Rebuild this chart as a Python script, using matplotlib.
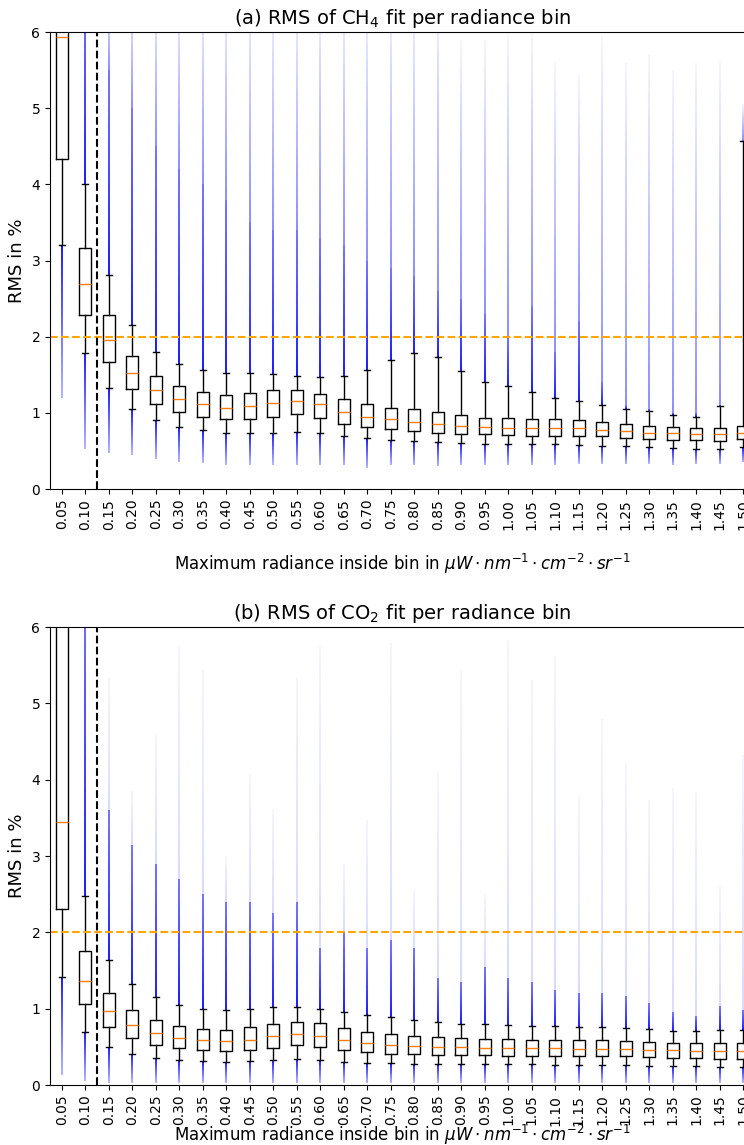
import numpy as np
import matplotlib
matplotlib.use('Agg')
import matplotlib.pyplot as plt
from matplotlib.collections import LineCollection

# radiance bins (upper edge of each bin)
bins = ["0.05", "0.10", "0.15", "0.20", "0.25", "0.30", "0.35", "0.40", "0.45", "0.50",
        "0.55", "0.60", "0.65", "0.70", "0.75", "0.80", "0.85", "0.90", "0.95", "1.00",
        "1.05", "1.10", "1.15", "1.20", "1.25", "1.30", "1.35", "1.40", "1.45", "1.50"]

# CH4 fit RMS (%) box statistics
ch4_q1 = [4.33, 2.28, 1.67, 1.31, 1.11, 1.01, 0.95, 0.915, 0.92, 0.945,
          0.984, 0.936, 0.857, 0.82, 0.79, 0.765, 0.74, 0.72, 0.717, 0.708,
          0.70, 0.70, 0.70, 0.69, 0.674, 0.66, 0.647, 0.638, 0.634, 0.656]
ch4_med = [5.94, 2.69, 1.955, 1.52, 1.295, 1.18, 1.11, 1.07, 1.086, 1.13,
           1.16, 1.11, 1.01, 0.94, 0.915, 0.883, 0.853, 0.827, 0.81, 0.805,
           0.805, 0.80, 0.80, 0.78, 0.757, 0.74, 0.73, 0.72, 0.716, 0.735]
ch4_q3 = [8.0, 3.17, 2.29, 1.745, 1.48, 1.35, 1.28, 1.24, 1.26, 1.295,
          1.295, 1.25, 1.18, 1.11, 1.07, 1.05, 1.015, 0.97, 0.936, 0.927,
          0.918, 0.914, 0.90, 0.875, 0.85, 0.823, 0.81, 0.796, 0.796, 0.823]
ch4_whislo = [3.20, 1.79, 1.32, 1.05, 0.90, 0.82, 0.77, 0.74, 0.73, 0.735,
              0.75, 0.73, 0.69, 0.665, 0.65, 0.63, 0.617, 0.604, 0.595, 0.59,
              0.586, 0.586, 0.58, 0.57, 0.564, 0.555, 0.538, 0.529, 0.529, 0.55]
ch4_whishi = [12.0, 4.01, 2.81, 2.15, 1.80, 1.64, 1.56, 1.53, 1.52, 1.51,
              1.487, 1.475, 1.48, 1.56, 1.70, 1.78, 1.74, 1.55, 1.41, 1.35,
              1.27, 1.20, 1.16, 1.106, 1.05, 1.02, 0.975, 0.95, 1.09, 4.57]
# outlier extents: lowest flier, top of the dense flier streak, highest flier
ch4_flier_min = [1.19, 0.52, 0.47, 0.45, 0.39, 0.36, 0.34, 0.32, 0.32, 0.32,
                 0.31, 0.31, 0.31, 0.28, 0.31, 0.31, 0.30, 0.31, 0.31, 0.31,
                 0.31, 0.31, 0.33, 0.33, 0.33, 0.33, 0.31, 0.33, 0.33, 0.35]
ch4_flier_dense = [12.0, 6.5, 5.5, 5.0, 4.5, 4.2, 4.0, 3.8, 3.5, 3.4,
                   3.4, 3.3, 3.2, 3.0, 2.9, 2.8, 2.6, 2.5, 2.3, 2.0,
                   2.4, 1.8, 2.2, 1.4, 1.1, 1.05, 1.0, 1.0, 1.1, 4.57]
ch4_flier_max = [12.0, 6.5, 6.5, 6.5, 6.5, 6.5, 6.5, 6.5, 6.5, 6.5,
                 6.5, 6.5, 6.5, 6.5, 6.5, 6.5, 6.5, 5.9, 5.9, 6.0,
                 6.0, 5.6, 5.45, 5.95, 5.6, 5.7, 5.5, 5.6, 5.65, 5.05]

# CO2 fit RMS (%) box statistics
co2_q1 = [2.30, 1.06, 0.756, 0.61, 0.524, 0.48, 0.455, 0.446, 0.463, 0.489,
          0.52, 0.493, 0.455, 0.428, 0.41, 0.406, 0.397, 0.393, 0.389, 0.385,
          0.385, 0.385, 0.381, 0.381, 0.376, 0.367, 0.358, 0.35, 0.345, 0.345]
co2_med = [3.44, 1.367, 0.966, 0.78, 0.677, 0.616, 0.585, 0.572, 0.59, 0.638,
           0.673, 0.646, 0.59, 0.55, 0.528, 0.515, 0.502, 0.493, 0.489, 0.485,
           0.485, 0.48, 0.476, 0.476, 0.472, 0.463, 0.454, 0.45, 0.446, 0.441]
co2_q3 = [7.0, 1.756, 1.21, 0.983, 0.85, 0.77, 0.734, 0.72, 0.756, 0.80,
          0.826, 0.81, 0.747, 0.70, 0.664, 0.646, 0.628, 0.61, 0.603, 0.598,
          0.594, 0.59, 0.585, 0.585, 0.581, 0.563, 0.55, 0.546, 0.55, 0.546]
co2_whislo = [1.41, 0.70, 0.50, 0.41, 0.358, 0.328, 0.31, 0.306, 0.315, 0.328,
              0.345, 0.328, 0.306, 0.288, 0.284, 0.279, 0.275, 0.275, 0.271, 0.271,
              0.271, 0.267, 0.262, 0.262, 0.258, 0.253, 0.249, 0.249, 0.24, 0.24]
co2_whishi = [12.0, 2.48, 1.634, 1.32, 1.153, 1.05, 1.0, 0.987, 1.0, 1.018,
              1.027, 1.0, 0.961, 0.92, 0.887, 0.852, 0.83, 0.804, 0.795, 0.782,
              0.777, 0.769, 0.765, 0.765, 0.752, 0.73, 0.713, 0.713, 0.721, 0.721]
co2_flier_min = [0.13, 0.05, 0.03, 0.03, 0.03, 0.03, 0.03, 0.03, 0.03, 0.03,
                 0.03, 0.03, 0.03, 0.03, 0.03, 0.03, 0.03, 0.03, 0.03, 0.03,
                 0.03, 0.03, 0.03, 0.03, 0.03, 0.03, 0.03, 0.03, 0.03, 0.03]
co2_flier_dense = [12.0, 6.5, 3.6, 3.15, 2.9, 2.7, 2.5, 2.4, 2.4, 2.25,
                   2.4, 1.8, 2.0, 1.8, 1.9, 1.8, 1.4, 1.35, 1.55, 1.4,
                   1.35, 1.25, 1.2, 1.2, 1.16, 1.07, 0.95, 0.9, 1.03, 0.98]
co2_flier_max = [12.0, 6.5, 5.35, 3.85, 4.6, 5.75, 5.45, 3.0, 4.08, 3.62,
                 5.35, 5.77, 2.9, 3.47, 5.79, 2.56, 4.1, 5.44, 2.49, 5.83,
                 5.31, 5.62, 3.78, 4.79, 4.22, 3.74, 3.89, 3.84, 2.62, 4.32]


def streak(ax, x, y0, y1, a0, a1, n=40):
    # vertical blue streak standing in for the many overplotted outliers
    if y1 <= y0:
        return
    ys = np.linspace(y0, y1, n + 1)
    segs = [[(x, ys[i]), (x, ys[i + 1])] for i in range(n)]
    cols = [(0, 0, 1, a) for a in np.linspace(a0, a1, n)]
    ax.add_collection(LineCollection(segs, colors=cols, linewidths=1.4, zorder=1))


def rms_panel(ax, q1, med, q3, wlo, whi, fmin, fdense, fmax, faint, title, pad):
    stats = []
    for i in range(len(bins)):
        stats.append(dict(q1=q1[i], med=med[i], q3=q3[i], whislo=wlo[i], whishi=whi[i],
                          fliers=[], label=bins[i]))
    ax.bxp(stats, showfliers=False,
           medianprops=dict(color='C1'))
    for i in range(len(bins)):
        x = i + 1
        streak(ax, x, fmin[i], wlo[i], 0.3, 0.9)
        streak(ax, x, whi[i], fdense[i], 0.9, 0.55)
        streak(ax, x, max(whi[i], fdense[i]), fmax[i], faint, 0.04)
    ax.axhline(2, color='orange', linestyle='--', linewidth=1.5)
    ax.axvline(2.5, color='black', linestyle='--', linewidth=1.5)
    ax.set_ylim(0, 6)
    ax.set_xlim(0.5, len(bins) + 0.5)
    ax.tick_params(axis='x', labelrotation=90)
    ax.set_ylabel("RMS in %", fontsize=13)
    ax.set_xlabel(r"Maximum radiance inside bin in $\mu W \cdot nm^{-1} \cdot cm^{-2} \cdot sr^{-1}$",
                  fontsize=12, labelpad=pad)
    ax.set_title(title, fontsize=14)


fig = plt.figure(figsize=(7.44, 11.45), dpi=100)
ax1 = fig.add_axes([0.0672, 0.5729, 0.9476, 0.3991])
ax2 = fig.add_axes([0.0672, 0.0524, 0.9476, 0.4000])

rms_panel(ax1, ch4_q1, ch4_med, ch4_q3, ch4_whislo, ch4_whishi,
          ch4_flier_min, ch4_flier_dense, ch4_flier_max, 0.45,
          r"(a) RMS of CH$_4$ fit per radiance bin", 16)
rms_panel(ax2, co2_q1, co2_med, co2_q3, co2_whislo, co2_whishi,
          co2_flier_min, co2_flier_dense, co2_flier_max, 0.15,
          r"(b) RMS of CO$_2$ fit per radiance bin", -2)

fig.savefig('out.png', dpi=100)
